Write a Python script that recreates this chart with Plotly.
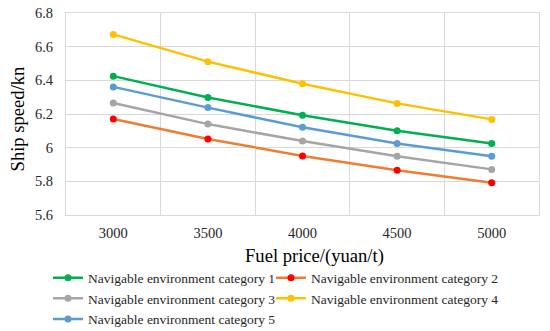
import plotly.graph_objects as go

fuel_price = ["3000", "3500", "4000", "4500", "5000"]
cat1 = [6.425, 6.298, 6.193, 6.101, 6.025]
cat2 = [6.170, 6.052, 5.951, 5.866, 5.791]
cat3 = [6.265, 6.140, 6.039, 5.949, 5.871]
cat4 = [6.673, 6.511, 6.380, 6.263, 6.168]
cat5 = [6.361, 6.238, 6.121, 6.025, 5.949]

series = [
    ("Navigable environment category 1", cat1, "#00B050", "#00B050", "legend"),
    ("Navigable environment category 2", cat2, "#ED7D31", "#FF0000", "legend2"),
    ("Navigable environment category 3", cat3, "#A5A5A5", "#A5A5A5", "legend"),
    ("Navigable environment category 4", cat4, "#FFC000", "#FFC000", "legend2"),
    ("Navigable environment category 5", cat5, "#5B9BD5", "#5B9BD5", "legend"),
]

fig = go.Figure()
for name, vals, lc, mc, lg in series:
    fig.add_trace(go.Scatter(
        x=fuel_price, y=vals, name=name, mode="lines+markers",
        line=dict(color=lc, width=2.5),
        marker=dict(color=mc, size=7),
        legend=lg,
    ))

FF = "Liberation Serif"
GRID = "#D9D9D9"
TXT = "#262626"
leg_common = dict(
    orientation="v", xref="paper", yref="container",
    xanchor="left", y=0.231, yanchor="top",
    font=dict(size=13.5, color=TXT, family=FF),
    itemwidth=30, tracegroupgap=0,
    bgcolor="rgba(0,0,0,0)",
)
fig.update_layout(
    width=550, height=331,
    margin=dict(l=58, r=19, t=5, b=123.5),
    plot_bgcolor="white", paper_bgcolor="white",
    font=dict(family=FF, color=TXT),
    showlegend=True,
    legend=dict(x=-0.038, **leg_common),
    legend2=dict(x=0.4334, **leg_common),
    xaxis=dict(
        type="category", tickson="boundaries", range=[-0.5, 4.5],
        showgrid=True, gridcolor=GRID, gridwidth=1,
        showline=True, linecolor=GRID, linewidth=1, mirror=True,
        ticks="", tickfont=dict(size=14.5, color=TXT, family=FF),
        ticklabelstandoff=5,
        zeroline=False, automargin=False,
    ),
    yaxis=dict(
        range=[5.6, 6.8], tickvals=[5.6, 5.8, 6.0, 6.2, 6.4, 6.6, 6.8],
        ticktext=["5.6", "5.8", "6", "6.2", "6.4", "6.6", "6.8"],
        showgrid=True, gridcolor=GRID, gridwidth=1,
        showline=True, linecolor=GRID, linewidth=1, mirror=True,
        ticks="", tickfont=dict(size=14.5, color=TXT, family=FF),
        ticklabelstandoff=9, ticklabeloverflow="allow",
        zeroline=False, automargin=False,
    ),
    annotations=[
        dict(text="Fuel price/(yuan/t)", xref="paper", yref="paper",
             x=0.5254, y=-0.2024, xanchor="center", yanchor="middle",
             showarrow=False, font=dict(size=18.6, color="#000000", family=FF)),
        dict(text="Ship speed/kn", xref="paper", yref="paper",
             x=-0.1036, y=0.478, xanchor="center", yanchor="middle", textangle=-90,
             showarrow=False, font=dict(size=18.6, color="#000000", family=FF)),
    ],
)

fig.write_html("out.html")
